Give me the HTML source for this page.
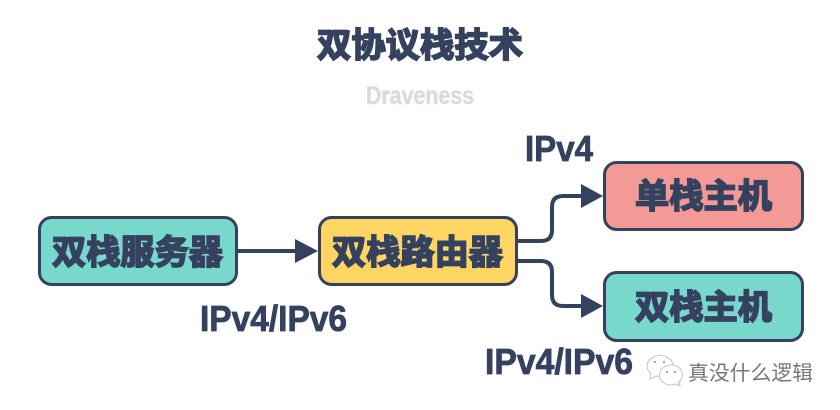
<!DOCTYPE html>
<html lang="zh">
<head>
<meta charset="utf-8">
<style>
html,body{margin:0;padding:0;background:#fff;width:840px;height:410px;overflow:hidden}
svg{display:block}
.cn{font-family:"Liberation Sans","Noto Sans CJK SC",sans-serif;font-weight:700;fill:#35425f;stroke:#35425f;stroke-width:1.7px;font-size:34px}
.en{font-family:"Liberation Sans","Noto Sans CJK SC",sans-serif;font-weight:700;fill:#35425f;stroke:#35425f;stroke-width:.8px;font-size:36px}
</style>
</head>
<body>
<svg width="840" height="410" viewBox="0 0 840 410" xmlns="http://www.w3.org/2000/svg">
<rect width="840" height="410" fill="#fff"/>
<text class="cn" x="317" y="57" textLength="206" lengthAdjust="spacingAndGlyphs">双协议栈技术</text>
<text x="366" y="104" textLength="108" lengthAdjust="spacingAndGlyphs" font-family="Liberation Sans, sans-serif" font-weight="700" font-size="25" fill="#d9dbe2" stroke="#d9dbe2" stroke-width=".5">Draveness</text>

<g fill="none" stroke="#35425f" stroke-width="4">
<path d="M237 251H297"/>
<path d="M517 241H541Q552 241 552 230V207Q552 196 563 196H583"/>
<path d="M517 261H541Q552 261 552 272V295Q552 306 563 306H583"/>
</g>
<g fill="#35425f">
<path d="M295 239L318 251L295 263Z"/>
<path d="M581 184L603 196L581 208Z"/>
<path d="M581 294L603 306L581 318Z"/>
</g>

<g stroke="#35425f" stroke-width="3">
<rect x="39.5" y="217.5" width="197" height="67" rx="12" fill="#79d8cc"/>
<rect x="319.500" y="217.5" width="197" height="67" rx="12" fill="#ffd664"/>
<rect x="604.5" y="162.5" width="198" height="67" rx="12" fill="#f39a96"/>
<rect x="604.5" y="272.5" width="198" height="68" rx="12" fill="#79d8cc"/>
</g>

<text class="cn" x="52" y="264" textLength="171" lengthAdjust="spacingAndGlyphs">双栈服务器</text>
<text class="cn" x="332" y="264" textLength="171" lengthAdjust="spacingAndGlyphs">双栈路由器</text>
<text class="cn" x="635" y="208" textLength="137" lengthAdjust="spacingAndGlyphs">单栈主机</text>
<text class="cn" x="635" y="319" textLength="137" lengthAdjust="spacingAndGlyphs">双栈主机</text>

<text class="en" x="200" y="331" textLength="147" lengthAdjust="spacingAndGlyphs">IPv4/IPv6</text>
<text class="en" x="525" y="161" textLength="68" lengthAdjust="spacingAndGlyphs">IPv4</text>
<text class="en" x="485" y="374" textLength="148" lengthAdjust="spacingAndGlyphs">IPv4/IPv6</text>

<g fill="#fff" stroke="#c4c4c4" stroke-width="1">
<ellipse cx="660" cy="366" rx="13" ry="10.500"/>
<path d="M651 373L650 379L656 376"/>
<ellipse cx="671" cy="375" rx="11.500" ry="10"/>
<path d="M676 384L680 386L678 381"/>
</g>
<g fill="#aaaaaa">
<circle cx="655" cy="362" r="1.200"/>
<circle cx="664" cy="362" r="1.200"/>
<circle cx="667" cy="372" r="1.200"/>
<circle cx="675" cy="372" r="1.200"/>
</g>
<text x="688" y="380" textLength="125" lengthAdjust="spacingAndGlyphs" font-family="Liberation Sans, Noto Sans CJK SC, sans-serif" font-size="20.500" fill="#777">真没什么逻辑</text>
</svg>
</body>
</html>
